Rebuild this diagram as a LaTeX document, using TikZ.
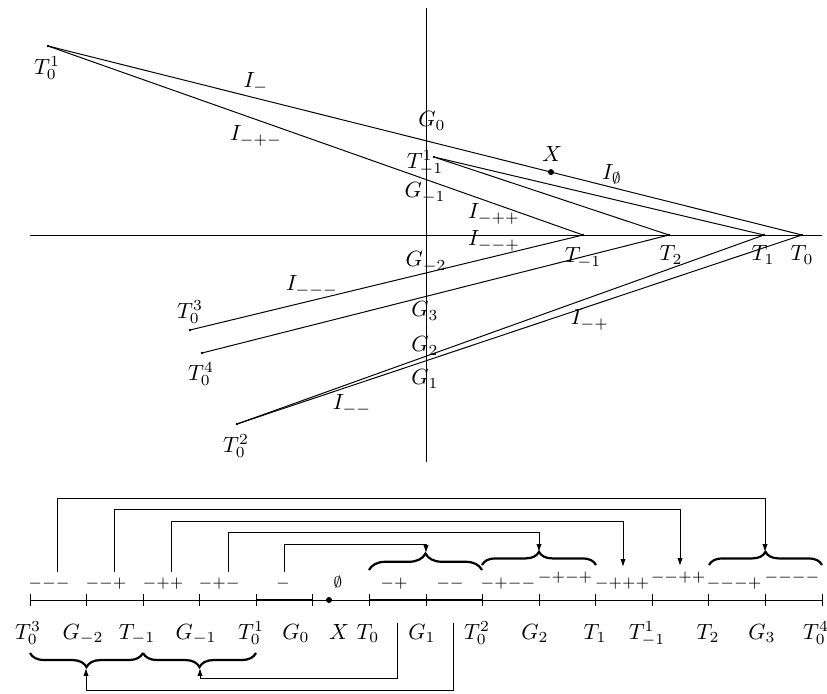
\documentclass[tikz,border=0pt]{standalone}
\usetikzlibrary{arrows.meta,decorations.pathreplacing,calc}
\begin{document}
\begin{tikzpicture}[x=0.4547pt,y=-0.4547pt,line width=0.45pt,
  lbl/.style={inner sep=0pt},
  blbl/.style={inner sep=0pt,anchor=base},
  sgn/.style={inner sep=0pt,anchor=base,font=\scriptsize},
  brc/.style={decorate,decoration={brace,amplitude=#1},line width=1pt},
  conn/.style={-{Latex[length=3.6pt,width=2.4pt]}},
  seg/.style={line width=1.1pt}]
\useasboundingbox (0,0) rectangle (827,693);
% ---------- top diagram ----------
\coordinate (hl) at (30,235);
\coordinate (hr) at (822,235);
\coordinate (vt) at (426,8);
\coordinate (vb) at (426,462);
\draw (hl) -- (hr);
\draw (vt) -- (vb);
\coordinate (T01) at (48,46);
\coordinate (T0) at (802,235);
\coordinate (T1) at (764,235);
\coordinate (T2) at (669,235);
\coordinate (Tm1) at (583,235);
\coordinate (T1m1) at (434,157);
\coordinate (T03) at (190,330);
\coordinate (T04) at (202,353);
\coordinate (T02) at (237,424);
\coordinate (X) at ($(T01)!0.6671!(T0)$);
\draw (T01) -- (T0);
\draw (T01) -- (Tm1);
\draw (T1m1) -- (T2);
\draw (T1m1) -- (T1);
\draw (T03) -- (Tm1);
\draw (T04) -- (T2);
\draw (T02) -- (T1);
\draw (T02) -- (T0);
\foreach \p in {T01,T0,T1,T2,Tm1,T1m1,T03,T04,T02}{\fill (\p) circle (1.3);}
\fill (X) circle (3);
% labels
\node[lbl] (lT01) at (47,68) {$T_0^1$};
\node[lbl] (lIm) at (256,83) {$I_-$};
\node[lbl] (lImpm) at (256,136) {$I_{-+-}$};
\node[lbl] (lG0) at (432,121) {$G_0$};
\node[lbl] (lT1m1) at (425,163) {$T_{-1}^1$};
\node[lbl] (lX) at (552,154) {$X$};
\node[lbl] (lIe) at (612,174) {$I_\emptyset$};
\node[lbl] (lGm1) at (425,193) {$G_{-1}$};
\node[lbl] (lImpp) at (494,214) {$I_{-++}$};
\node[lbl] (lImmp) at (494,241) {$I_{--+}$};
\node[lbl] (lTm1) at (583,258) {$T_{-1}$};
\node[lbl] (lT2) at (671,255) {$T_2$};
\node[lbl] (lT1) at (763,255) {$T_1$};
\node[lbl] (lT0) at (802,255) {$T_0$};
\node[lbl] (lGm2) at (426,262) {$G_{-2}$};
\node[lbl] (lImmm) at (312,286) {$I_{---}$};
\node[lbl] (lT03) at (190,312) {$T_0^3$};
\node[lbl] (lG3) at (425,311) {$G_3$};
\node[lbl] (lImp) at (590,320) {$I_{-+}$};
\node[lbl] (lG2) at (425,346) {$G_2$};
\node[lbl] (lT04) at (201,374) {$T_0^4$};
\node[lbl] (lG1) at (425,379) {$G_1$};
\node[lbl] (lImm) at (352,405) {$I_{--}$};
\node[lbl] (lT02) at (236,446) {$T_0^2$};
% ---------- bottom timeline ----------
\foreach \i in {0,...,14}{\coordinate (t\i) at ({30+\i*56.5714},600);}
\draw (t0) -- (t14);
\draw[seg] (t4) -- (t5);
\draw[seg] (t6) -- (t8);
\foreach \i in {0,...,14}{\draw ($(t\i)+(0,-6)$) -- ($(t\i)+(0,6)$);}
\coordinate (tX) at (329,600);
\fill (tX) circle (3);
% labels under the line
\node[blbl] (bT03) at (28,639) {$T_0^3$};
\node[blbl] (bGm2) at (83,639) {$G_{-2}$};
\node[blbl] (bTm1) at (137,639) {$T_{-1}$};
\node[blbl] (bGm1) at (196,639) {$G_{-1}$};
\node[blbl] (bT01) at (251,639) {$T_0^1$};
\node[blbl] (bG0) at (296,639) {$G_0$};
\node[blbl] (bX) at (339,639) {$X$};
\node[blbl] (bT0) at (368,639) {$T_0$};
\node[blbl] (bG1) at (422,639) {$G_1$};
\node[blbl] (bT02) at (477,639) {$T_0^2$};
\node[blbl] (bG2) at (535,639) {$G_2$};
\node[blbl] (bT1) at (595,639) {$T_1$};
\node[blbl] (bT1m1) at (647,639) {$T_{-1}^1$};
\node[blbl] (bT2) at (708,639) {$T_2$};
\node[blbl] (bG3) at (762,639) {$G_3$};
\node[blbl] (bT04) at (816,639) {$T_0^4$};
% sign labels above the line
\node[sgn] (s1) at (49,587) {${-}{-}{-}$};
\node[sgn] (s2) at (106,587) {${-}{-}{+}$};
\node[sgn] (s3) at (163,587) {${-}{+}{+}$};
\node[sgn] (s4) at (219,587) {${-}{+}{-}$};
\node[sgn] (s5) at (283,587) {${-}$};
\node[sgn] (s6) at (338,587) {$\emptyset$};
\node[sgn] (s7) at (394,587) {${-}{+}$};
\node[sgn] (s8) at (450,587) {${-}{-}$};
\node[sgn] (s9) at (508,587) {${-}{+}{-}{-}$};
\node[sgn] (s10) at (565,581) {${-}{+}{-}{+}$};
\node[sgn] (s11) at (622,587) {${-}{+}{+}{+}$};
\node[sgn] (s12) at (678,581) {${-}{-}{+}{+}$};
\node[sgn] (s13) at (734,587) {${-}{-}{-}{+}$};
\node[sgn] (s14) at (792,581) {${-}{-}{-}{-}$};
% braces
\draw[brc=7.5pt] (369,570) -- (482,570);
\draw[brc=6pt] (482,565) -- (596,565);
\draw[brc=6pt] (709,565) -- (822,565);
\draw[brc=6.4pt] (143,653) -- (30,653);
\draw[brc=6.4pt] (256,653) -- (143,653);
\coordinate (b1) at (426,553);
\coordinate (b2) at (539,552);
\coordinate (b3) at (765,552);
\coordinate (b4) at (86,668);
\coordinate (b5) at (200,668);
% upper connectors
\coordinate (c1) at (57,572);
\coordinate (c2) at (114,572);
\coordinate (c3) at (171,572);
\coordinate (c4) at (228,572);
\coordinate (c5) at (284,572);
\coordinate (e2) at (680,566);
\coordinate (e3) at (623,567);
\draw[conn] (c1) -- (57,498) -| (b3);
\draw[conn] (c2) -- (114,509.5) -| (e2);
\draw[conn] (c3) -- (171,521) -| (e3);
\draw[conn] (c4) -- (228,532.5) -| (b2);
\draw[conn] (c5) -- (284,544) -| (b1);
% lower connectors
\coordinate (d1) at (397,623);
\coordinate (d2) at (453,623);
\draw[conn] (d1) -- (397,678) -| (b5);
\draw[conn] (d2) -- (453,690) -| (b4);
\end{tikzpicture}
\end{document}
